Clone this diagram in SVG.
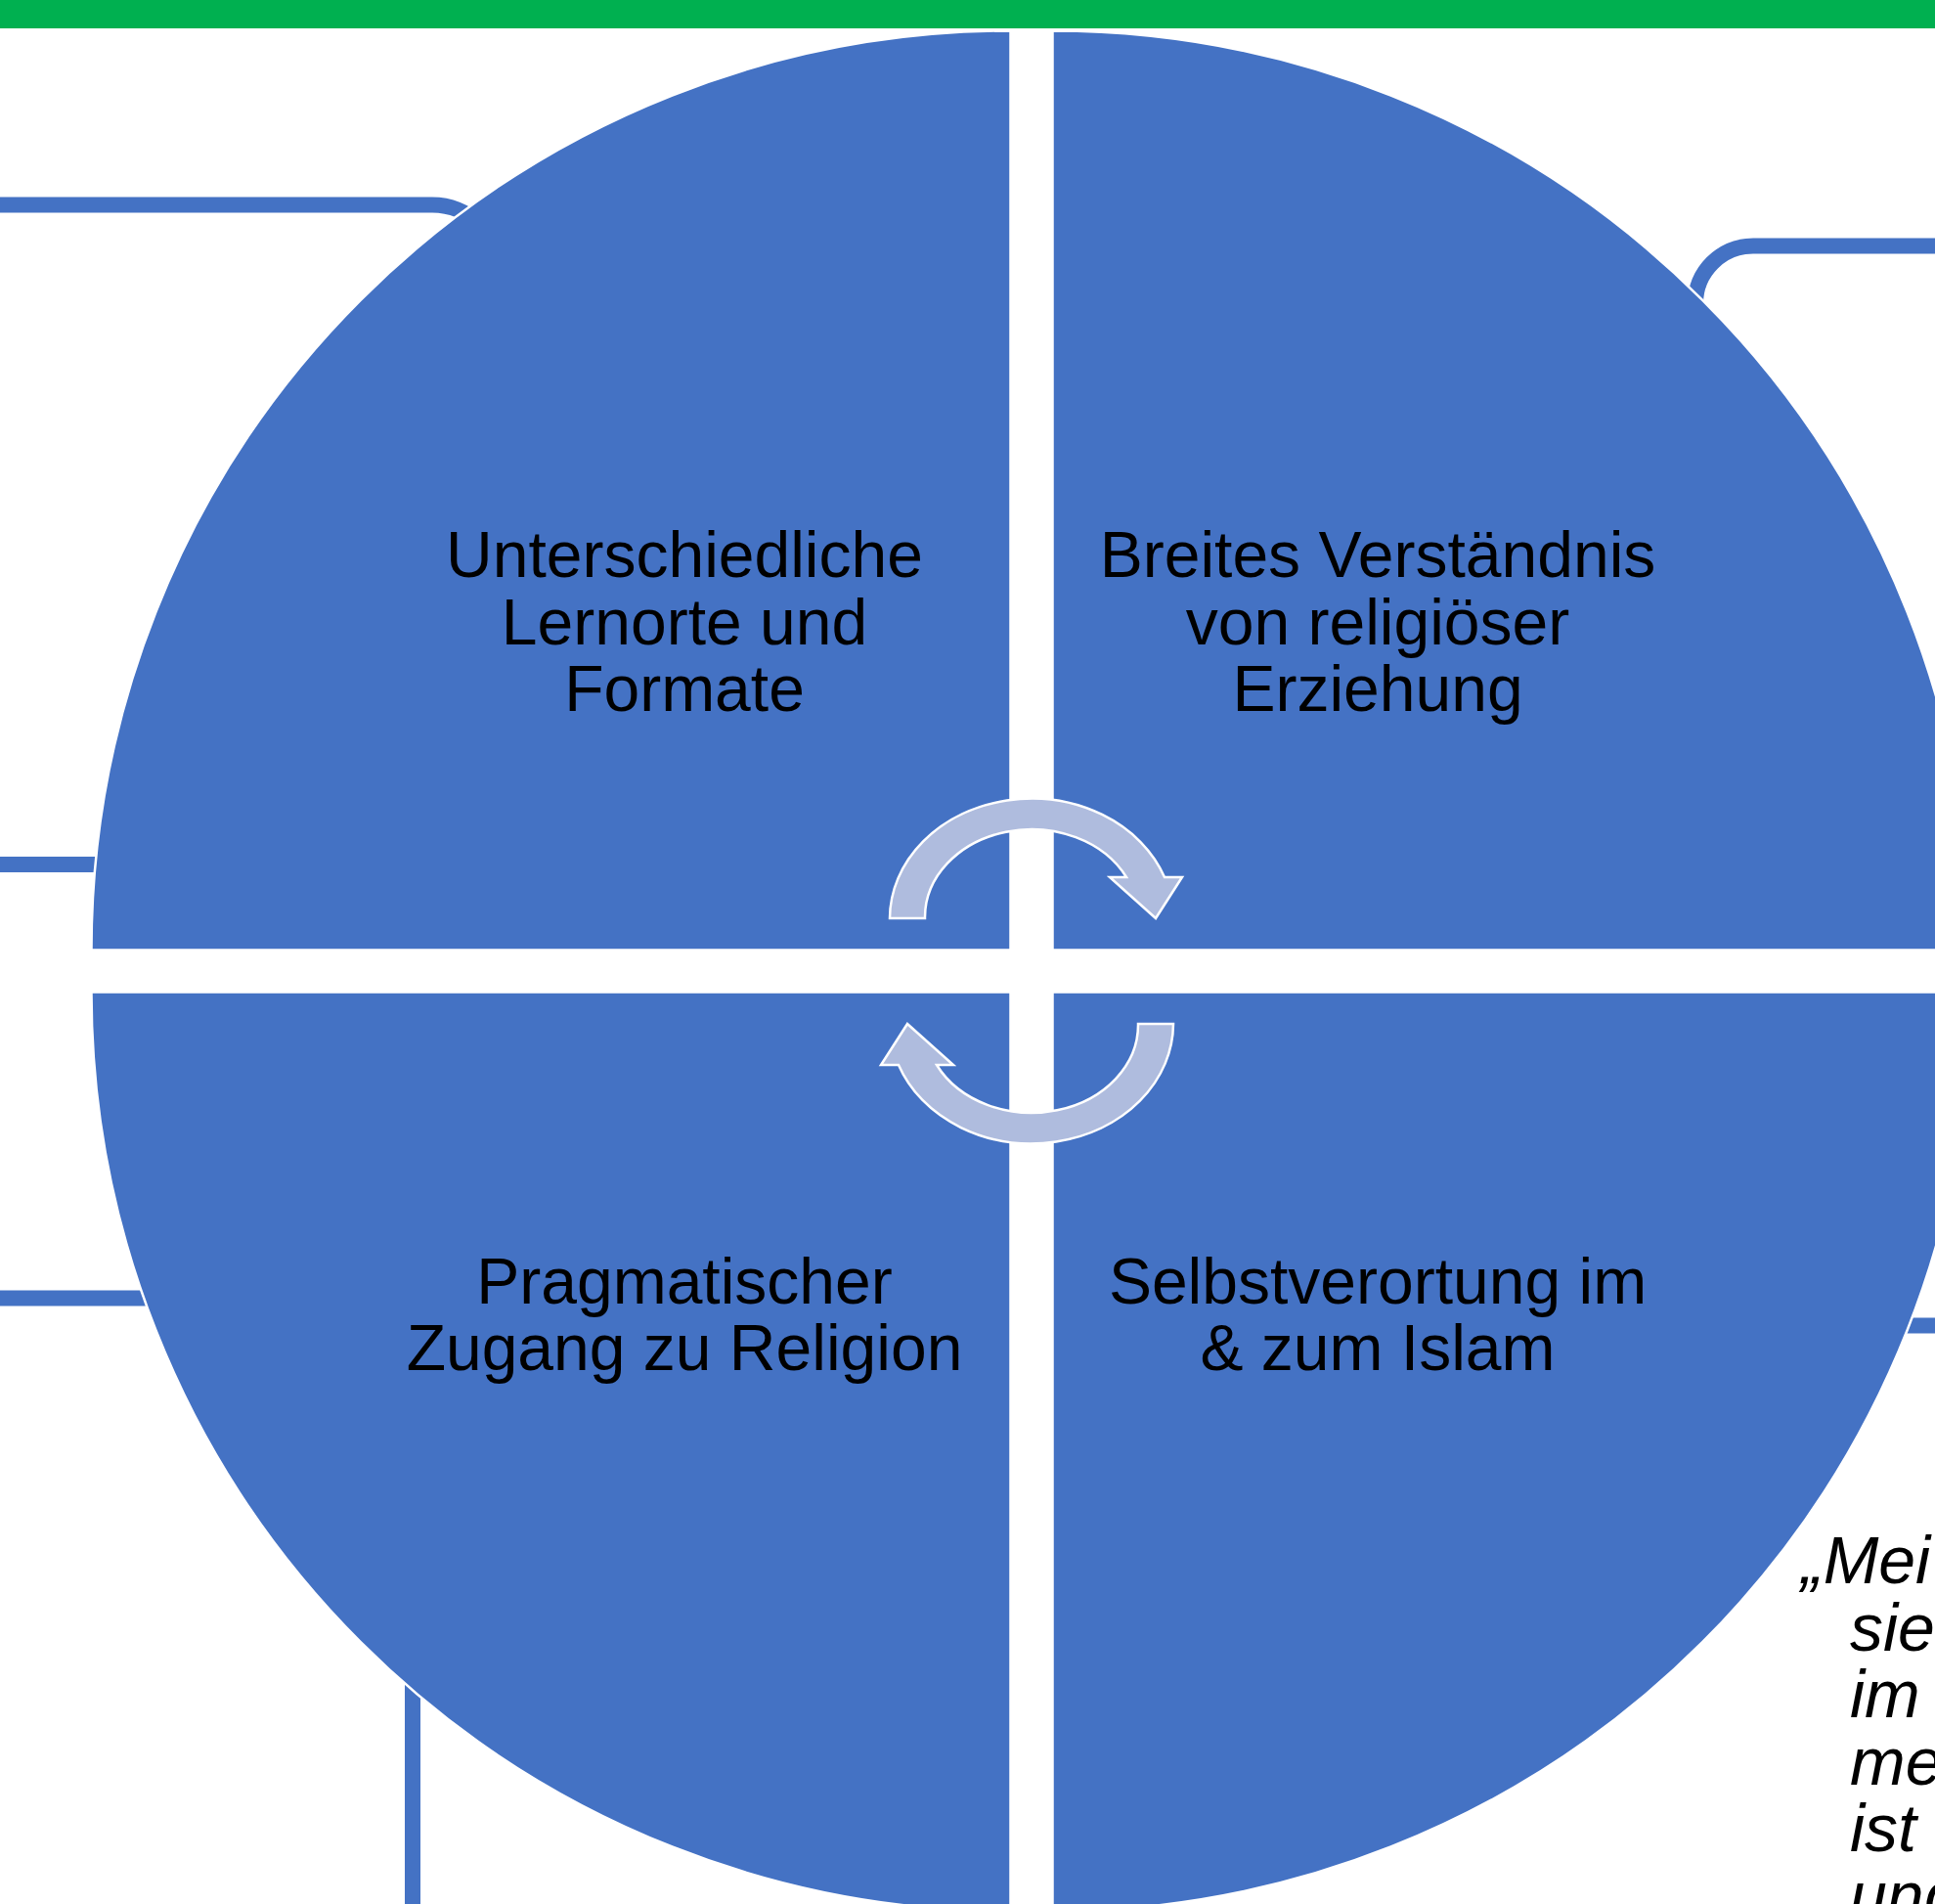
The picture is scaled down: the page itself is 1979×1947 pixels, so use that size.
<svg xmlns="http://www.w3.org/2000/svg" width="1979" height="1947" viewBox="0 0 1979 1947">
  <style>
    .bar { fill: #00B050; }
    .link { fill: none; stroke: #4472C4; stroke-width: 16; }
    .quad { fill: #4472C4; stroke: #FFFFFF; stroke-width: 2.5; }
    .label { font-family: "Liberation Sans", Arial, sans-serif; font-size: 66px; fill: #000000; text-anchor: middle; }
    .cycle { fill: #AFBCDE; stroke: #FFFFFF; stroke-width: 2.5; stroke-linejoin: miter; }
    .quote { font-family: "Liberation Sans", Arial, sans-serif; font-size: 68px; font-style: italic; fill: #000000; }
  </style>
  <defs>
    <path id="turn-arrow" d="M910,939 A145,123 0 0 1 1191,897 L1209,897 L1182,939 L1135,897 L1152,897 A109,90 0 0 0 946,939 Z"/>
  </defs>

  <rect width="1979" height="1947" fill="#FFFFFF"/>

  <!-- header band -->
  <rect class="bar" x="0" y="0" width="1979" height="29"/>

  <!-- connector lines running behind the circle -->
  <g id="connectors">
    <path class="link" d="M0,209.5 H442 A70,70 0 0 1 512,279.5 V420"/>
    <path class="link" d="M1979,251.5 H1793 A59,59 0 0 0 1734,310.5 V420"/>
    <path class="link" d="M0,884 H240"/>
    <path class="link" d="M0,1327.5 H320"/>
    <path class="link" d="M422,1947 V1600"/>
    <path class="link" d="M1979,1355.5 H1800"/>
  </g>

  <!-- four quadrants of the circle -->
  <g id="node-lernorte">
    <path class="quad" d="M1033.5,971.5 H93.5 A940,940 0 0 1 1033.5,31.5 Z"/>
    <text class="label" x="700" y="590">Unterschiedliche</text>
    <text class="label" x="700" y="658.5">Lernorte und</text>
    <text class="label" x="700" y="727">Formate</text>
  </g>

  <g id="node-verstaendnis">
    <path class="quad" d="M1076.5,971.5 V31.5 A940,940 0 0 1 2016.5,971.5 Z"/>
    <text class="label" x="1409" y="590">Breites Verständnis</text>
    <text class="label" x="1409" y="658.5">von religiöser</text>
    <text class="label" x="1409" y="727">Erziehung</text>
  </g>

  <g id="node-pragmatisch">
    <path class="quad" d="M1033.5,1014.5 V1954.5 A940,940 0 0 1 93.5,1014.5 Z"/>
    <text class="label" x="700" y="1333">Pragmatischer</text>
    <text class="label" x="700" y="1401">Zugang zu Religion</text>
  </g>

  <g id="node-selbstverortung">
    <path class="quad" d="M1076.5,1014.5 H2016.5 A940,940 0 0 1 1076.5,1954.5 Z"/>
    <text class="label" x="1409" y="1333">Selbstverortung im</text>
    <text class="label" x="1409" y="1401">&amp; zum Islam</text>
  </g>

  <!-- cycle arrows in the middle -->
  <g id="cycle-arrows">
    <use href="#turn-arrow" class="cycle"/>
    <use href="#turn-arrow" class="cycle" transform="rotate(180 1055 993)"/>
  </g>

  <!-- quotation at the lower right edge -->
  <g id="quote">
    <text class="quote" x="1842" y="1619">„Mei</text>
    <text class="quote" x="1892" y="1687.5">sie,</text>
    <text class="quote" x="1892" y="1756">im</text>
    <text class="quote" x="1892" y="1824.5">me</text>
    <text class="quote" x="1892" y="1893">ist</text>
    <text class="quote" x="1892" y="1961.5">und</text>
  </g>
</svg>
